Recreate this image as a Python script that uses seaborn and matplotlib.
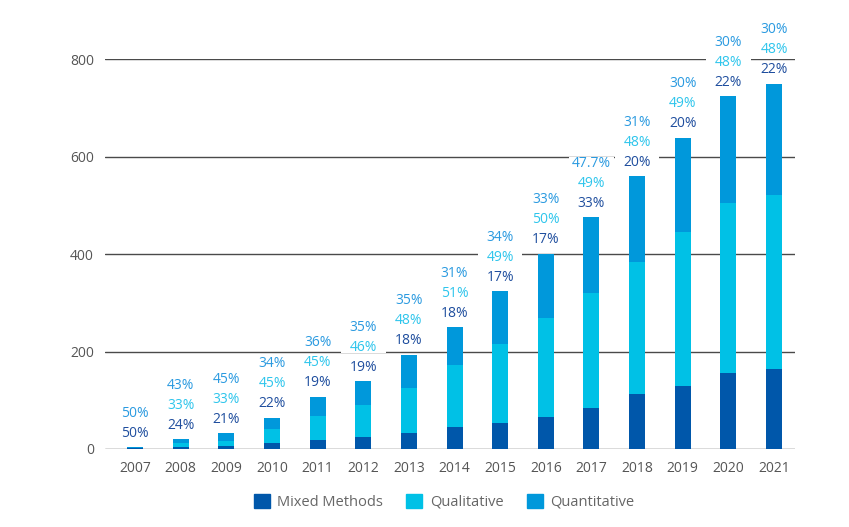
import numpy as np
import matplotlib
matplotlib.use("Agg")
import matplotlib.pyplot as plt
from matplotlib.patches import Patch
from matplotlib.path import Path
import seaborn as sns

years = ["2007", "2008", "2009", "2010", "2011", "2012", "2013", "2014",
         "2015", "2016", "2017", "2018", "2019", "2020", "2021"]
mixed = [2, 5, 7, 13, 19, 25, 33, 45, 53, 66, 84, 113, 129, 156, 164]
qualitative = [0, 7, 10, 29, 49, 66, 92, 127, 162, 203, 236, 271, 316, 349, 357]
quantitative = [2, 8, 15, 22, 39, 48, 68, 78, 109, 132, 155, 176, 193, 219, 228]

mixed_lbl = ["50%", "24%", "21%", "22%", "19%", "19%", "18%", "18%",
             "17%", "17%", "33%", "20%", "20%", "22%", "22%"]
qual_lbl = ["", "33%", "33%", "45%", "45%", "46%", "48%", "51%",
            "49%", "50%", "49%", "48%", "49%", "48%", "48%"]
quant_lbl = ["50%", "43%", "45%", "34%", "36%", "35%", "35%", "31%",
             "34%", "33%", "47.7%", "31%", "30%", "30%", "30%"]

c_mixed = "#0057AA"
c_qual = "#00C1E6"
c_quant = "#0098DB"
t_mixed = "#1F4E9E"
t_qual = "#2EC5EC"
t_quant = "#2A9AE0"

sns.set_style("white")
plt.rcParams["font.family"] = ["Open Sans", "DejaVu Sans"]

fig = plt.figure(figsize=(8.49, 5.27), dpi=100)
ax = fig.add_axes([105 / 849, 78 / 527, 690 / 849, 390 / 527])

m = np.array(mixed)
mq = m + np.array(qualitative)
total = mq + np.array(quantitative)

# stacked bars drawn back to front
sns.barplot(x=years, y=total, color=c_quant, saturation=1, width=0.35, ax=ax, linewidth=0)
sns.barplot(x=years, y=mq, color=c_qual, saturation=1, width=0.35, ax=ax, linewidth=0)
sns.barplot(x=years, y=m, color=c_mixed, saturation=1, width=0.35, ax=ax, linewidth=0)


def label_box(x0, y0, width, height, mutation_size):
    # white box behind each label, fixed width so it cuts the gridlines evenly
    cx = x0 + width / 2
    cy = y0 + height / 2
    w = 3.2 * mutation_size
    h = 0.89 * mutation_size
    return Path([(cx - w / 2, cy - h / 2), (cx + w / 2, cy - h / 2),
                 (cx + w / 2, cy + h / 2), (cx - w / 2, cy + h / 2),
                 (cx - w / 2, cy - h / 2)], closed=True)


for i, top in enumerate(total):
    off = 14
    for txt, col in [(mixed_lbl[i], t_mixed), (qual_lbl[i], t_qual), (quant_lbl[i], t_quant)]:
        if not txt:
            continue
        ax.annotate(txt, (i, top), xytext=(0, off), textcoords="offset pixels",
                    ha="center", va="center", fontsize=10, color=col,
                    annotation_clip=False, zorder=5,
                    bbox=dict(boxstyle=label_box, fc="white", ec="none"))
        off += 20

ax.set_ylim(0, 800)
ax.set_xlim(-0.66, 14.46)
ax.set_yticks([0, 200, 400, 600, 800])
ax.yaxis.grid(True, color="#4a4a4a", linewidth=1)
ax.xaxis.grid(False)
ax.set_axisbelow(True)
for s in ax.spines.values():
    s.set_visible(False)
ax.tick_params(axis="both", length=0, labelsize=10, labelcolor="#555555")
ax.tick_params(axis="y", pad=8)
ax.tick_params(axis="x", pad=9)
ax.set_xlabel("")
ax.set_ylabel("")

handles = [Patch(color=c_mixed, label="Mixed Methods"),
           Patch(color=c_qual, label="Qualitative"),
           Patch(color=c_quant, label="Quantitative")]
fig.legend(handles=handles, loc="center", bbox_to_anchor=(444 / 849, 1 - 502 / 527),
           ncol=3, frameon=False, fontsize=10.5, labelcolor="#666666",
           handlelength=1.1, handleheight=1.1, handletextpad=0.5, columnspacing=1.6)

fig.savefig("out.png", dpi=100)
